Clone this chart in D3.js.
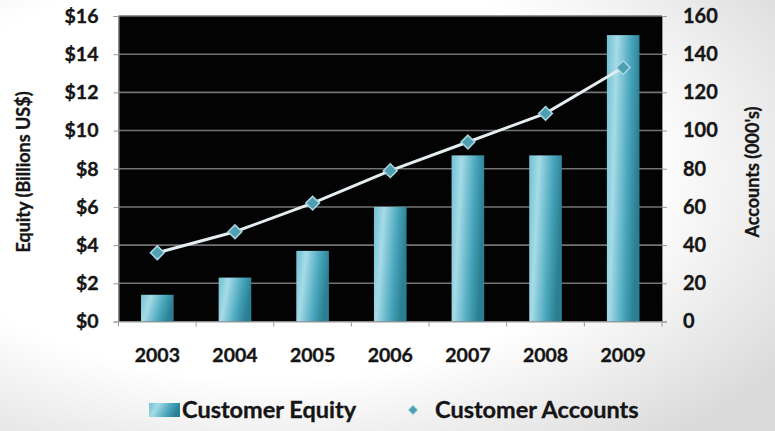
<!DOCTYPE html>
<html>
<head>
<meta charset="utf-8">
<script src="https://cdn.jsdelivr.net/npm/d3@7"></script>
<style>
  html, body { margin: 0; padding: 0; background: #fff; }
  svg { display: block; }
  text { font-family: Lato, "Open Sans", sans-serif; font-weight: 700; fill: #151515; stroke: #151515; stroke-width: 0.35px; }
</style>
</head>
<body>
<svg id="chart" width="775" height="431"></svg>
<script>
const years = ["2003", "2004", "2005", "2006", "2007", "2008", "2009"];
const equity = [1.4, 2.3, 3.7, 6.0, 8.7, 8.7, 15.0];      // $ billions
const accounts = [36, 47, 62, 79, 94, 109, 133];         // thousands
const leftTicks = [0, 2, 4, 6, 8, 10, 12, 14, 16];
const rightTicks = [0, 20, 40, 60, 80, 100, 120, 140, 160];
const seriesNames = ["Customer Equity", "Customer Accounts"];

const W = 775, H = 431;
const plot = { left: 118.5, right: 662, top: 16, bottom: 321.5 };

const svg = d3.select("#chart");
const defs = svg.append("defs");

// faint photographic background shading
const bg = defs.append("radialGradient").attr("id", "bg")
  .attr("cx", "35%").attr("cy", "40%").attr("r", "80%");
bg.append("stop").attr("offset", "0.6").attr("stop-color", "#ffffff");
bg.append("stop").attr("offset", "1").attr("stop-color", "#dadada");
svg.append("rect").attr("width", W).attr("height", H).attr("fill", "url(#bg)");

const barGrad = defs.append("linearGradient").attr("id", "barGrad")
  .attr("x1", "0").attr("y1", "0").attr("x2", "1").attr("y2", "0.25");
barGrad.append("stop").attr("offset", "0").attr("stop-color", "#6fc0d3");
barGrad.append("stop").attr("offset", "0.3").attr("stop-color", "#a6dbe7");
barGrad.append("stop").attr("offset", "0.7").attr("stop-color", "#4aa7bd");
barGrad.append("stop").attr("offset", "1").attr("stop-color", "#2b7f92");

const x = d3.scaleBand().domain(years).range([plot.left, plot.right]);
const yL = d3.scaleLinear().domain([0, 16]).range([plot.bottom, plot.top]);
const yR = d3.scaleLinear().domain([0, 160]).range([plot.bottom, plot.top]);

// plot background
svg.append("rect")
  .attr("x", plot.left).attr("y", plot.top)
  .attr("width", plot.right - plot.left).attr("height", plot.bottom - plot.top)
  .attr("fill", "#030303");

// gridlines
svg.append("g").selectAll("line").data(leftTicks.slice(1)).join("line")
  .attr("x1", plot.left).attr("x2", plot.right)
  .attr("y1", d => yL(d)).attr("y2", d => yL(d))
  .attr("stroke", "#737373").attr("stroke-width", 1.6);

// bars
const bw = x.bandwidth() * 0.42;
svg.append("g").selectAll("rect").data(years).join("rect")
  .attr("x", (d) => x(d) + x.bandwidth() / 2 - bw / 2)
  .attr("y", (d, i) => yL(equity[i]))
  .attr("width", bw)
  .attr("height", (d, i) => yL(0) - yL(equity[i]))
  .attr("fill", "url(#barGrad)");

// axes
const axL = svg.append("g").attr("transform", `translate(${plot.left},0)`)
  .call(d3.axisLeft(yL).tickValues(leftTicks).tickSize(5).tickPadding(15).tickFormat(d => "$" + d));
const axR = svg.append("g").attr("transform", `translate(${plot.right},0)`)
  .call(d3.axisRight(yR).tickValues(rightTicks).tickSize(5).tickPadding(16).tickFormat(d3.format("d")));
const axB = svg.append("g").attr("transform", `translate(0,${plot.bottom})`)
  .call(d3.axisBottom(x).tickSize(0).tickPadding(27));
// category separator ticks
svg.append("g").selectAll("line").data(years.concat(["end"])).join("line")
  .attr("x1", (d, i) => i < years.length ? x(d) : plot.right)
  .attr("x2", (d, i) => i < years.length ? x(d) : plot.right)
  .attr("y1", plot.bottom).attr("y2", plot.bottom + 5)
  .attr("stroke", "#999").attr("stroke-width", 1);

[axL, axR, axB].forEach(a => {
  a.select(".domain").attr("stroke", "#999");
  a.selectAll(".tick line").attr("stroke", "#999");
  a.selectAll("text").attr("fill", "#151515")
    .attr("font-family", "Lato, sans-serif").attr("font-weight", 700);
});
axL.selectAll("text").attr("font-size", 19.5);
axR.selectAll("text").attr("font-size", 20);
axB.selectAll("text").attr("font-size", 19.5);

// line
const line = d3.line().x((d, i) => x(years[i]) + x.bandwidth() / 2).y(d => yR(d));
svg.append("path").datum(accounts)
  .attr("d", line).attr("fill", "none")
  .attr("stroke", "#e4eef0").attr("stroke-width", 3);

const diamond = d3.symbol().type(d3.symbolDiamond2 || d3.symbolDiamond).size(120);
svg.append("g").selectAll("path").data(accounts).join("path")
  .attr("d", diamond)
  .attr("transform", (d, i) => `translate(${x(years[i]) + x.bandwidth() / 2},${yR(d)})`)
  .attr("fill", "#4f9fb2").attr("stroke", "#a9d7e2").attr("stroke-width", 1.5);

// axis titles
svg.append("text")
  .attr("transform", `translate(30,172) rotate(-90)`)
  .attr("text-anchor", "middle").attr("font-size", 18)
  .text("Equity (Billions US$)");
svg.append("text")
  .attr("transform", `translate(759,172) rotate(-90)`)
  .attr("text-anchor", "middle").attr("font-size", 18)
  .text("Accounts (000's)");

// legend
const lg = svg.append("g");
lg.append("rect").attr("x", 149).attr("y", 403).attr("width", 31).attr("height", 14)
  .attr("fill", "url(#barGrad)");
lg.append("text").attr("x", 182).attr("y", 418).attr("font-size", 23.5).text(seriesNames[0]);
lg.append("path").attr("d", d3.symbol().type(d3.symbolDiamond2 || d3.symbolDiamond).size(55)())
  .attr("transform", "translate(413,410)")
  .attr("fill", "#4f9fb2").attr("stroke", "#a9d7e2").attr("stroke-width", 1);
lg.append("text").attr("x", 435).attr("y", 418).attr("font-size", 23.5).text(seriesNames[1]);
</script>
</body>
</html>
